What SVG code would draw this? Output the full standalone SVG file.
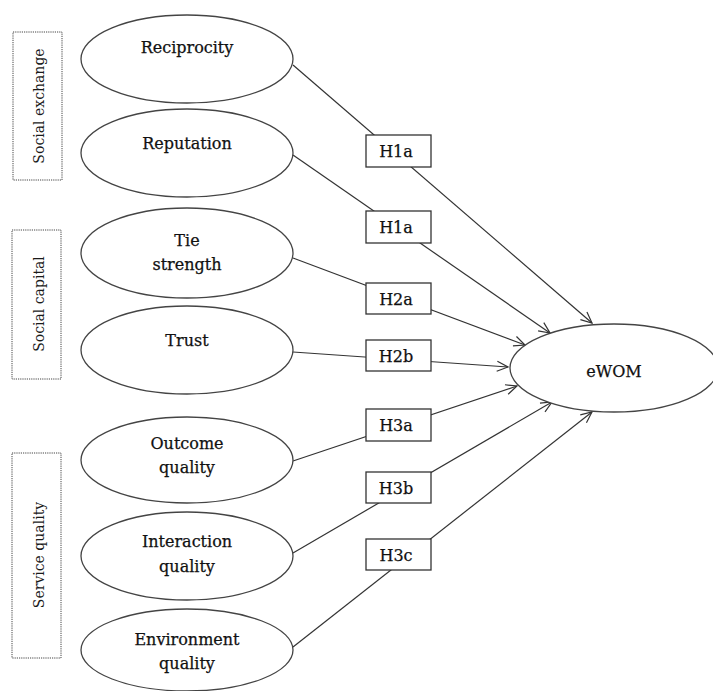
<svg xmlns="http://www.w3.org/2000/svg" width="713" height="691" viewBox="0 0 713 691">
<style>
.bg{fill:#fff}
.ell{fill:#fff;stroke:#444;stroke-width:1.3}
.lbl{font-family:"DejaVu Serif","Liberation Serif",serif;font-size:16px;fill:#111;text-anchor:middle;stroke:#111;stroke-width:0.25}
.side{fill:#fff;stroke:#444;stroke-width:1;stroke-dasharray:1.2,1}
.stxt{font-family:"DejaVu Serif","Liberation Serif",serif;font-size:14px;fill:#1a1a1a;text-anchor:middle}
.hbox{fill:#fff;stroke:#333;stroke-width:1.3}
.conn{stroke:#333;stroke-width:1.2;fill:none}
</style>
<defs>
<marker id="arr" markerWidth="14" markerHeight="12" refX="12" refY="6" orient="auto" markerUnits="userSpaceOnUse">
<path d="M1,1 L12,6 L1,11" fill="none" stroke="#333" stroke-width="1.2"/>
</marker>
</defs>
<rect class="bg" x="0" y="0" width="713" height="691"/>

<g id="group-social-exchange">
<rect class="side" x="13" y="32" width="49" height="148"/>
<text class="stxt" transform="translate(44,106) rotate(-90)">Social exchange</text>
</g>
<g id="group-social-capital">
<rect class="side" x="12" y="230" width="49" height="149"/>
<text class="stxt" transform="translate(44,304) rotate(-90)">Social capital</text>
</g>
<g id="group-service-quality">
<rect class="side" x="12" y="453" width="49" height="205"/>
<text class="stxt" transform="translate(44,555) rotate(-90)">Service quality</text>
</g>

<g id="connectors">
<line class="conn" x1="293" y1="65" x2="592" y2="323" marker-end="url(#arr)"/>
<line class="conn" x1="293" y1="155" x2="550" y2="333" marker-end="url(#arr)"/>
<line class="conn" x1="293" y1="258" x2="525" y2="345" marker-end="url(#arr)"/>
<line class="conn" x1="293" y1="352" x2="508" y2="367" marker-end="url(#arr)"/>
<line class="conn" x1="293" y1="461" x2="517" y2="386" marker-end="url(#arr)"/>
<line class="conn" x1="293" y1="553" x2="552" y2="402" marker-end="url(#arr)"/>
<line class="conn" x1="293" y1="647" x2="592" y2="412" marker-end="url(#arr)"/>
</g>

<g id="node-reciprocity">
<ellipse class="ell" cx="187" cy="59" rx="106" ry="44"/>
<text class="lbl" x="187" y="53">Reciprocity</text>
</g>
<g id="node-reputation">
<ellipse class="ell" cx="187" cy="153" rx="106" ry="44"/>
<text class="lbl" x="187" y="149">Reputation</text>
</g>
<g id="node-tie-strength">
<ellipse class="ell" cx="187" cy="253" rx="106" ry="45"/>
<text class="lbl" x="187" y="246">Tie</text>
<text class="lbl" x="187" y="270">strength</text>
</g>
<g id="node-trust">
<ellipse class="ell" cx="187" cy="350" rx="106" ry="44"/>
<text class="lbl" x="187" y="346">Trust</text>
</g>
<g id="node-outcome-quality">
<ellipse class="ell" cx="187" cy="460" rx="106" ry="43"/>
<text class="lbl" x="187" y="449">Outcome</text>
<text class="lbl" x="187" y="473">quality</text>
</g>
<g id="node-interaction-quality">
<ellipse class="ell" cx="187" cy="556" rx="106" ry="44"/>
<text class="lbl" x="187" y="547">Interaction</text>
<text class="lbl" x="187" y="572">quality</text>
</g>
<g id="node-environment-quality">
<ellipse class="ell" cx="187" cy="650" rx="106" ry="41"/>
<text class="lbl" x="187" y="645">Environment</text>
<text class="lbl" x="187" y="669">quality</text>
</g>
<g id="node-ewom">
<ellipse class="ell" cx="614" cy="368" rx="104" ry="44"/>
<text class="lbl" x="614" y="377">eWOM</text>
</g>

<g id="hyp-h1a-1">
<rect class="hbox" x="366" y="135" width="65" height="32"/>
<text class="lbl" x="396" y="157">H1a</text>
</g>
<g id="hyp-h1a-2">
<rect class="hbox" x="366" y="211" width="65" height="32"/>
<text class="lbl" x="396" y="233">H1a</text>
</g>
<g id="hyp-h2a">
<rect class="hbox" x="366" y="283" width="65" height="31"/>
<text class="lbl" x="396" y="305">H2a</text>
</g>
<g id="hyp-h2b">
<rect class="hbox" x="366" y="340" width="65" height="31"/>
<text class="lbl" x="396" y="362">H2b</text>
</g>
<g id="hyp-h3a">
<rect class="hbox" x="366" y="409" width="65" height="32"/>
<text class="lbl" x="396" y="431">H3a</text>
</g>
<g id="hyp-h3b">
<rect class="hbox" x="366" y="472" width="65" height="31"/>
<text class="lbl" x="396" y="494">H3b</text>
</g>
<g id="hyp-h3c">
<rect class="hbox" x="366" y="539" width="65" height="31"/>
<text class="lbl" x="396" y="561">H3c</text>
</g>
</svg>
